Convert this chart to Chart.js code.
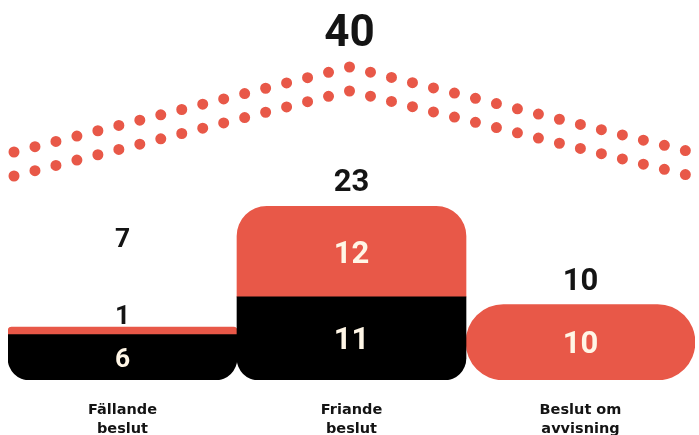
<!DOCTYPE html>
<html>
<head>
<meta charset="utf-8">
<script src="https://cdn.jsdelivr.net/npm/chart.js@4"></script>
<style>
  html, body { margin: 0; padding: 0; background: #fff; }
  #wrap { width: 699px; height: 435px; }
</style>
</head>
<body>
<div id="wrap"><canvas id="chart" width="699" height="435"></canvas></div>
<script>
// --- data ---
const categories = ['Fällande beslut', 'Friande beslut', 'Beslut om avvisning'];
const blackValues = [6, 11, 0];
const redValues = [1, 12, 10];
const yMax = 40;

const RED = '#E85848';
const BLACK = '#000000';
const INK = '#141414';
const CREAM = '#FFF6E6';
const NUM_FONT = 'Roboto, "DejaVu Sans", sans-serif';

// two dotted rows forming a roof over the chart (decoration)
function drawArches(chart) {
  const ctx = chart.ctx;
  const left = 14, right = chart.width - 8, mid = chart.width / 2;
  ctx.save();
  ctx.strokeStyle = RED;
  ctx.lineWidth = 11;
  ctx.lineCap = 'round';
  const side = Math.hypot(mid - left, 85);
  const gap = side / Math.round(side / 21.6);
  ctx.setLineDash([0, gap]);
  [152, 176].forEach(yEnd => {
    ctx.beginPath();
    ctx.moveTo(left, yEnd);
    ctx.lineTo(mid, yEnd - 85);
    ctx.lineTo(right, yEnd);
    ctx.stroke();
  });
  ctx.restore();
}

function drawNumber(ctx, text, x, cy, size, color) {
  ctx.font = 'bold ' + size + 'px ' + NUM_FONT;
  ctx.fillStyle = color;
  ctx.textAlign = 'center';
  ctx.textBaseline = 'alphabetic';
  ctx.fillText(text, x, cy + size * 0.355);
}

const labelPlugin = {
  id: 'barLabels',
  beforeDatasetsDraw(chart) {
    drawArches(chart);
  },
  afterDatasetsDraw(chart) {
    const ctx = chart.ctx;
    const blackMeta = chart.getDatasetMeta(0);
    const redMeta = chart.getDatasetMeta(1);
    const yScale = chart.scales.y;
    let grand = 0;
    ctx.save();
    categories.forEach((c, i) => {
      const redBar = redMeta.data[i];
      const bottom = yScale.getPixelForValue(0);
      const total = blackValues[i] + redValues[i];
      grand += total;
      const totalH = bottom - redBar.y;
      const size = Math.min(31, totalH * 0.5);
      let outside = false;
      [[blackMeta.data[i], blackValues[i]], [redBar, redValues[i]]].forEach(([bar, v]) => {
        if (!v) return;
        const h = Math.abs(bar.base - bar.y);
        if (h >= size * 1.2) {
          drawNumber(ctx, String(v), bar.x, (bar.y + bar.base) / 2, size, CREAM);
        } else {
          outside = true;
          drawNumber(ctx, String(v), bar.x, bar.y - 13, size, INK);
        }
      });
      drawNumber(ctx, String(total), redBar.x, redBar.y - (outside ? 90 : 26), size, INK);
    });
    drawNumber(ctx, String(grand), chart.width / 2, 30, 44, INK);
    ctx.restore();
  }
};

new Chart(document.getElementById('chart'), {
  type: 'bar',
  data: {
    labels: categories,
    datasets: [
      {
        label: 'svart',
        // empty segments are left out so no hairline is drawn
        data: blackValues.map(v => v || null),
        backgroundColor: BLACK,
        borderSkipped: false,
        borderRadius: { topLeft: 0, topRight: 0, bottomLeft: 22, bottomRight: 22 },
        grouped: false
      },
      {
        label: 'röd',
        // red sits on top of the black segment
        data: redValues.map((v, i) => [blackValues[i], blackValues[i] + v]),
        backgroundColor: RED,
        borderSkipped: false,
        borderRadius: (ctx) => {
          const i = ctx.dataIndex;
          if (blackValues[i] === 0) return 38;
          return { topLeft: 30, topRight: 30, bottomLeft: 0, bottomRight: 0 };
        },
        grouped: false
      }
    ]
  },
  options: {
    responsive: false,
    animation: false,
    events: [],
    layout: { padding: { left: 8, right: 4, top: 78, bottom: 0 } },
    categoryPercentage: 1,
    barPercentage: 1,
    plugins: {
      legend: { display: false },
      tooltip: { enabled: false }
    },
    scales: {
      x: {
        grid: { display: false, drawTicks: false },
        border: { display: false },
        afterFit: (scale) => { scale.height = 55; },
        ticks: {
          padding: 21,
          color: INK,
          font: { family: '"DejaVu Sans", sans-serif', size: 14.5, weight: 'bold', lineHeight: 1.3 },
          callback: function (value) {
            const label = this.getLabelForValue(value);
            const cut = label.lastIndexOf(' ');
            return [label.slice(0, cut), label.slice(cut + 1)];
          }
        }
      },
      y: {
        display: false,
        min: 0,
        max: yMax,
        stacked: false
      }
    }
  },
  plugins: [labelPlugin]
});
</script>
</body>
</html>
